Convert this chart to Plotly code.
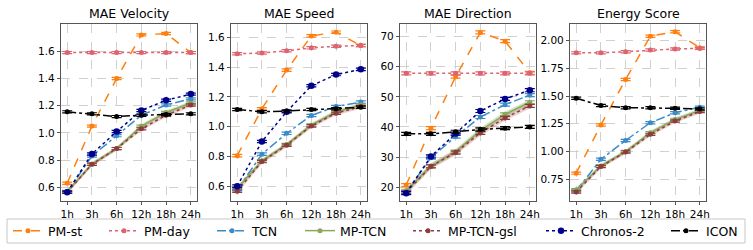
import plotly.graph_objects as go

horizons = ["1h", "3h", "6h", "12h", "18h", "24h"]
panel_titles = ["MAE Velocity", "MAE Speed", "MAE Direction", "Energy Score"]

# --- values per panel ---
vel = {
    "PM-st":      [0.63, 1.05, 1.40, 1.72, 1.73, 1.59],
    "PM-day":     [1.59, 1.59, 1.59, 1.59, 1.59, 1.59],
    "TCN":        [0.565, 0.83, 0.98, 1.13, 1.205, 1.25],
    "MP-TCN":     [0.57, 0.77, 0.885, 1.05, 1.15, 1.22],
    "MP-TCN-gsl": [0.565, 0.77, 0.885, 1.03, 1.13, 1.205],
    "Chronos-2":  [0.565, 0.845, 1.01, 1.165, 1.24, 1.285],
    "ICON":       [1.155, 1.14, 1.12, 1.13, 1.135, 1.14],
}
spd = {
    "PM-st":      [0.805, 1.12, 1.38, 1.61, 1.635, 1.545],
    "PM-day":     [1.49, 1.495, 1.51, 1.53, 1.54, 1.545],
    "TCN":        [0.575, 0.815, 0.955, 1.075, 1.135, 1.165],
    "MP-TCN":     [0.585, 0.77, 0.88, 1.01, 1.10, 1.145],
    "MP-TCN-gsl": [0.565, 0.765, 0.875, 1.005, 1.09, 1.135],
    "Chronos-2":  [0.60, 0.90, 1.10, 1.275, 1.35, 1.385],
    "ICON":       [1.115, 1.10, 1.105, 1.115, 1.12, 1.13],
}
direc = {
    "PM-st":      [20.7, 39.6, 56.7, 71.4, 68.5, 58.0],
    "PM-day":     [57.8, 57.8, 57.8, 57.8, 57.8, 57.8],
    "TCN":        [18.3, 29.8, 36.8, 43.3, 47.4, 50.6],
    "MP-TCN":     [18.8, 27.0, 31.8, 38.8, 44.2, 48.2],
    "MP-TCN-gsl": [18.3, 26.9, 31.5, 38.0, 43.0, 47.0],
    "Chronos-2":  [18.0, 30.2, 37.8, 45.3, 49.3, 52.2],
    "ICON":       [37.7, 37.7, 38.4, 39.2, 39.6, 40.0],
}
energy = {
    "PM-st":      [0.805, 1.24, 1.65, 2.04, 2.08, 1.935],
    "PM-day":     [1.89, 1.89, 1.90, 1.915, 1.925, 1.93],
    "TCN":        [0.645, 0.93, 1.10, 1.26, 1.35, 1.40],
    "MP-TCN":     [0.655, 0.87, 1.00, 1.17, 1.29, 1.37],
    "MP-TCN-gsl": [0.635, 0.865, 0.995, 1.155, 1.275, 1.36],
    "ICON":       [1.48, 1.415, 1.395, 1.395, 1.39, 1.385],
}
panels = [vel, spd, direc, energy]

# error (std) per panel, approximated
panel_err = [0.008, 0.008, 0.5, 0.01]
band_err = [0.014, 0.014, 0.9, 0.017]

y_ranges = [[0.5, 1.80], [0.5, 1.69], [15.4, 74.2], [0.554, 2.15]]
y_ticks = [
    [0.6, 0.8, 1.0, 1.2, 1.4, 1.6],
    [0.6, 0.8, 1.0, 1.2, 1.4, 1.6],
    [20, 30, 40, 50, 60, 70],
    [0.75, 1.00, 1.25, 1.50, 1.75, 2.00],
]
y_ticktext = [
    ["0.6", "0.8", "1.0", "1.2", "1.4", "1.6"],
    ["0.6", "0.8", "1.0", "1.2", "1.4", "1.6"],
    ["20", "30", "40", "50", "60", "70"],
    ["0.75", "1.00", "1.25", "1.50", "1.75", "2.00"],
]

styles = {
    "PM-st":      dict(color="#ff7f0e", dash="dash", msize=5),
    "PM-day":     dict(color="#dc6470", dash="dot", msize=5),
    "TCN":        dict(color="#3a8cc8", dash="dashdot", msize=5),
    "MP-TCN":     dict(color="#88a85a", dash="solid", msize=5),
    "MP-TCN-gsl": dict(color="#8c3c3c", dash="dot", msize=5),
    "Chronos-2":  dict(color="#00008b", dash="dot", msize=6.5),
    "ICON":       dict(color="#000000", dash="dashdot", msize=5),
}
band_colors = {"MP-TCN": "rgba(136,168,90,0.35)", "MP-TCN-gsl": "rgba(200,120,120,0.35)"}
order = ["PM-st", "PM-day", "TCN", "MP-TCN", "MP-TCN-gsl", "Chronos-2", "ICON"]

W, H = 753, 250
x_px = [(61, 197), (231, 367), (400, 536), (570, 706)]
y_dom = [1 - 201 / H, 1 - 24 / H]
# pixel x where each legend entry's label starts
legend_text_px = [50, 146, 254, 342, 450, 583, 708]

fig = go.Figure()
xs = list(range(len(horizons)))
for i, data in enumerate(panels):
    ax = "" if i == 0 else str(i + 1)
    for name in ["MP-TCN", "MP-TCN-gsl"]:
        vals = data[name]
        e = band_err[i]
        fig.add_trace(go.Scatter(
            x=xs + xs[::-1],
            y=[v + e for v in vals] + [v - e for v in vals][::-1],
            fill="toself", fillcolor=band_colors[name], line=dict(width=0),
            mode="lines", hoverinfo="skip", showlegend=False,
            xaxis="x" + ax, yaxis="y" + ax))
    for name in order:
        if name not in data:
            continue
        st = styles[name]
        k = order.index(name)
        fig.add_trace(go.Scatter(
            x=xs, y=data[name], name=name, mode="lines+markers",
            line=dict(color=st["color"], dash=st["dash"], width=1.5),
            marker=dict(color=st["color"], size=st["msize"], symbol="circle"),
            error_y=dict(type="constant", value=panel_err[i], color=st["color"],
                         thickness=1.2, width=5),
            showlegend=(i == 0), legendgroup=name,
            legend="legend" if k == 0 else "legend%d" % (k + 1),
            xaxis="x" + ax, yaxis="y" + ax))

    x0, x1 = x_px[i]
    fig.update_layout(**{
        "xaxis" + ax: dict(
            domain=[x0 / W, x1 / W], range=[-0.25, 5.25], anchor="y" + ax,
            tickvals=xs, ticktext=horizons, showgrid=True, gridcolor="#d0d0d0",
            griddash="dash", gridwidth=0.8, showline=True, mirror=True,
            linecolor="#555555", linewidth=1.2, ticks="outside", ticklen=3,
            tickcolor="#555555", zeroline=False, automargin=False,
            tickfont=dict(size=10.5, color="black")),
        "yaxis" + ax: dict(
            domain=y_dom, range=y_ranges[i], anchor="x" + ax,
            tickvals=y_ticks[i], ticktext=y_ticktext[i], showgrid=True,
            gridcolor="#d0d0d0", griddash="dash", gridwidth=0.8, showline=True,
            mirror=True, linecolor="#555555", linewidth=1.2, ticks="outside",
            ticklen=3, tickcolor="#555555", zeroline=False, automargin=False,
            tickfont=dict(size=10.5, color="black")),
    })
    fig.add_annotation(
        text=panel_titles[i], x=(x0 + x1) / 2 / W, y=1 - 13 / H,
        xref="paper", yref="paper", showarrow=False,
        font=dict(size=12.5, color="black"), xanchor="center", yanchor="middle")

# one legend per entry so entries sit where the reference puts them
for k, tx in enumerate(legend_text_px):
    key = "legend" if k == 0 else "legend%d" % (k + 1)
    fig.update_layout(**{key: dict(
        orientation="h", x=(tx - 42) / W, xanchor="left",
        y=1 - 216 / H, yanchor="top", bgcolor="rgba(0,0,0,0)",
        borderwidth=0, font=dict(size=12.5, color="black"), itemwidth=30)})

# legend frame
fig.add_shape(type="rect", xref="paper", yref="paper",
              x0=7 / W, x1=745 / W, y0=1 - 243 / H, y1=1 - 219 / H,
              line=dict(color="#c8c8c8", width=1), fillcolor="rgba(0,0,0,0)",
              layer="above")

fig.update_layout(
    width=W, height=H, margin=dict(l=0, r=0, t=0, b=0),
    plot_bgcolor="white", paper_bgcolor="white",
    font=dict(family="DejaVu Sans", color="black"),
)

fig.write_html("out.html",
               config={"displayModeBar": False},
               post_script="document.body.style.margin='0';document.body.style.overflow='hidden';")
